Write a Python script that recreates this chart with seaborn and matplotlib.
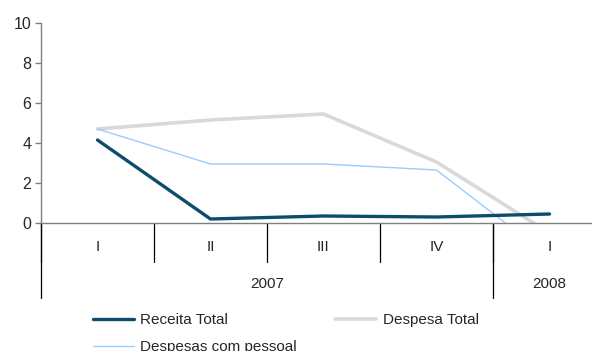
import matplotlib
matplotlib.use("Agg")
import matplotlib.pyplot as plt
import matplotlib.transforms as mtransforms
import seaborn as sns
import pandas as pd

quarters = ["I", "II", "III", "IV", "I"]
years = ["2007", "2008"]
year_spans = [(0, 3), (4, 4)]
receita_total = [4.15, 0.2, 0.35, 0.3, 0.45]
despesa_total = [4.7, 5.15, 5.45, 3.05, -0.5]
despesas_pessoal = [4.7, 2.95, 2.95, 2.65, -1.7]
series_names = ["Receita Total", "Despesa Total", "Despesas com pessoal"]
y_ticks = [0, 2, 4, 6, 8, 10]

sns.set_style("white")
plt.rcParams["font.family"] = ["Liberation Sans", "DejaVu Sans"]

rows = []
for name, vals in zip(series_names, [receita_total, despesa_total, despesas_pessoal]):
    for i, v in enumerate(vals):
        rows.append({"pos": i, "valor": v, "serie": name})
df = pd.DataFrame(rows)

colors = {"Receita Total": "#0D4C6C", "Despesa Total": "#D9D9D9",
          "Despesas com pessoal": "#99CCFF"}
widths = {"Receita Total": 2.4, "Despesa Total": 2.6, "Despesas com pessoal": 1.0}

fig = plt.figure(figsize=(5.92, 3.51), dpi=100)
ax = fig.add_axes([41 / 592, 128 / 351, 565 / 592, 200 / 351])

# draw in back-to-front order
for name in ["Despesa Total", "Despesas com pessoal", "Receita Total"]:
    sns.lineplot(data=df[df["serie"] == name], x="pos", y="valor", ax=ax,
                 color=colors[name], linewidth=widths[name], label=name,
                 legend=False, errorbar=None)

ax.set_xlim(-0.5, 4.5)
ax.set_ylim(0, 10)
ax.set_yticks(y_ticks)
ax.set_yticklabels([str(t) for t in y_ticks], fontsize=11.5)
ax.set_xticks([])
ax.set_xlabel("")
ax.set_ylabel("")
for side in ["top", "right"]:
    ax.spines[side].set_visible(False)
ax.spines["left"].set_color("#808080")
ax.spines["bottom"].set_color("#808080")
ax.spines["left"].set_linewidth(1.0)
ax.spines["bottom"].set_linewidth(1.0)
ax.tick_params(axis="y", direction="out", length=4, width=1, color="#808080",
               pad=3, left=True)

trans = mtransforms.blended_transform_factory(ax.transData, ax.transAxes)

# quarter separators and labels
for b in [-0.5, 0.5, 1.5, 2.5, 3.5]:
    ax.plot([b, b], [0, -0.195], transform=trans, color="black", lw=0.9,
            clip_on=False)
for i, q in enumerate(quarters):
    ax.text(i, -0.12, q, transform=trans, ha="center", va="center", fontsize=11)

# year separators and labels
for b in [-0.5, 3.5]:
    ax.plot([b, b], [0, -0.375], transform=trans, color="black", lw=0.9,
            clip_on=False)
for yr, (a, b) in zip(years, year_spans):
    ax.text((a + b) / 2, -0.305, yr, transform=trans, ha="center",
            va="center", fontsize=11)

handles, labels = ax.get_legend_handles_labels()
order = [labels.index("Receita Total"), labels.index("Despesas com pessoal"),
         labels.index("Despesa Total")]
fig.legend([handles[i] for i in order], [labels[i] for i in order],
           loc="upper left", bbox_to_anchor=(93 / 592, 1 - 313 / 351),
           ncol=2, frameon=False, fontsize=11, handlelength=2.7,
           handletextpad=0.4, columnspacing=2.5, labelspacing=0.85,
           borderpad=0, borderaxespad=0)

fig.savefig("out.png", dpi=100)
